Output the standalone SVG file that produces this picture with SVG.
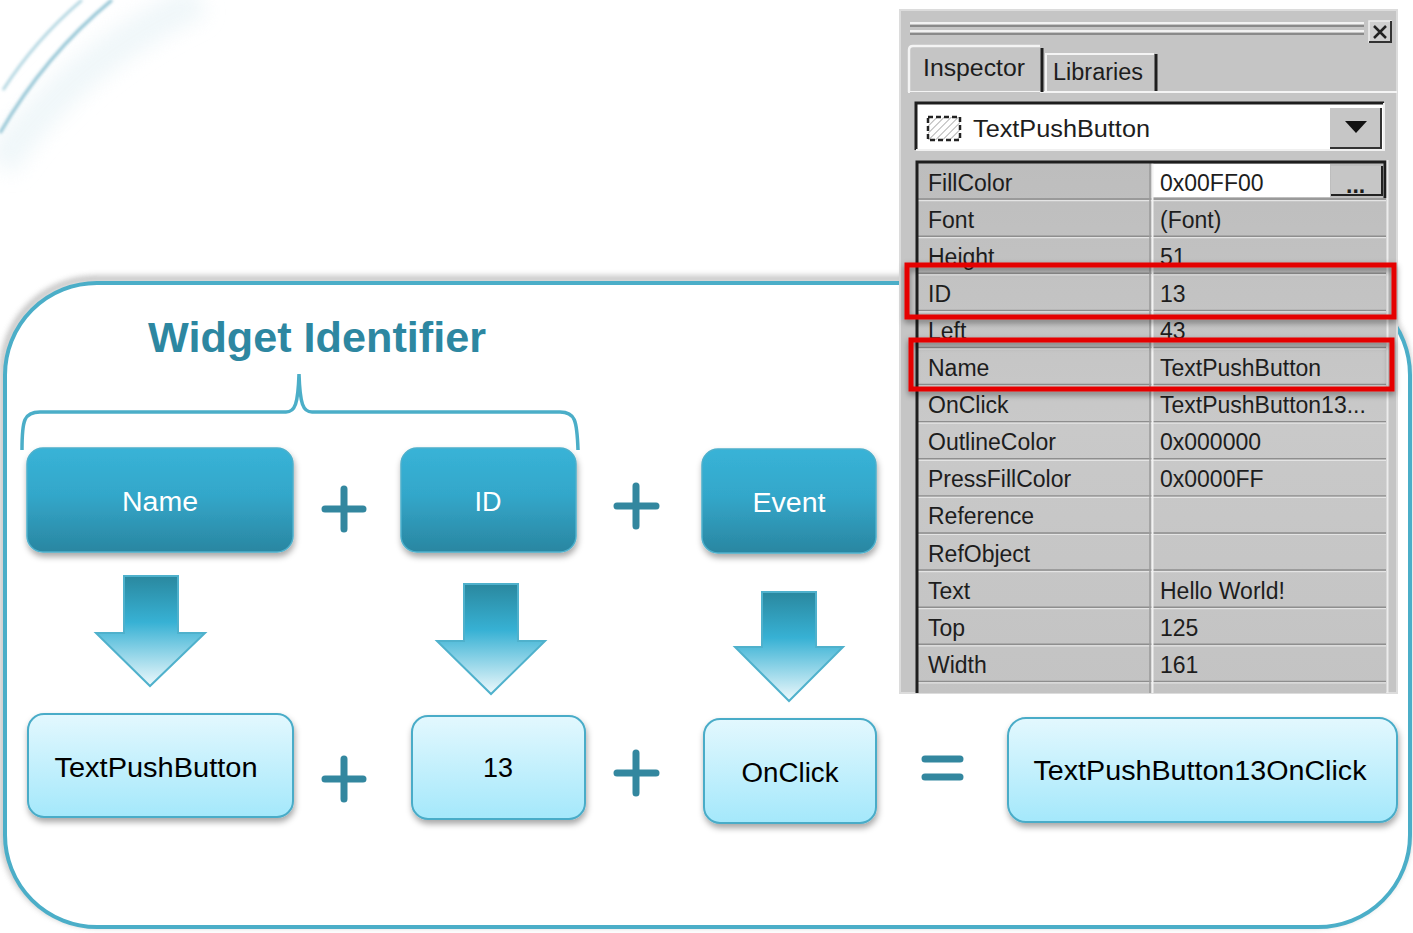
<svg xmlns="http://www.w3.org/2000/svg" width="1413" height="933" viewBox="0 0 1413 933">
<defs>
<style>
.lbl{font-family:"Liberation Sans","DejaVu Sans",sans-serif;}
.dark-text{font-family:"Liberation Sans","DejaVu Sans",sans-serif;font-size:27px;fill:#ffffff;text-anchor:middle;}
.light-text{font-family:"Liberation Sans","DejaVu Sans",sans-serif;font-size:27px;fill:#000000;text-anchor:middle;}
.dark-box{fill:url(#gDark);stroke:#4DB0CC;stroke-width:1.5;filter:url(#shadow);}
.light-box{fill:url(#gLight);stroke:#4AACC8;stroke-width:2;filter:url(#shadow);}
.arrow{fill:url(#gArrow);stroke:#4FB1CC;stroke-width:2;}
.op{stroke:#33879F;stroke-width:7;stroke-linecap:round;fill:none;}
.insp{font-family:"Liberation Sans","DejaVu Sans",sans-serif;font-size:23px;fill:#1d1d1d;}
.rowline{stroke:#8e8e8e;stroke-width:1.5;}
.rowhl{stroke:#e4e4e4;stroke-width:1.2;}
.redbox{fill:none;stroke:#E50000;stroke-width:5;filter:url(#redshadow);}
</style>
<linearGradient id="gDark" x1="0" y1="0" x2="0" y2="1">
<stop offset="0" stop-color="#38B3D7"/>
<stop offset="0.45" stop-color="#33A7CA"/>
<stop offset="1" stop-color="#2A86A1"/>
</linearGradient>
<linearGradient id="gLight" x1="0" y1="0" x2="0" y2="1">
<stop offset="0" stop-color="#E3F8FE"/>
<stop offset="1" stop-color="#A4E8FB"/>
</linearGradient>
<linearGradient id="gArrow" x1="0" y1="0" x2="0" y2="1">
<stop offset="0" stop-color="#2A889F"/>
<stop offset="0.42" stop-color="#37B1D4"/>
<stop offset="1" stop-color="#EEF9FC"/>
</linearGradient>
<linearGradient id="gRow" x1="0" y1="0" x2="0" y2="1">
<stop offset="0" stop-color="#bdbdbd"/>
<stop offset="0.5" stop-color="#c9c9c9"/>
<stop offset="1" stop-color="#c3c3c3"/>
</linearGradient>
<filter id="shadow" x="-10%" y="-10%" width="120%" height="130%">
<feDropShadow dx="1" dy="4" stdDeviation="3" flood-color="#000" flood-opacity="0.35"/>
</filter>
<filter id="redshadow" x="-5%" y="-40%" width="110%" height="180%">
<feDropShadow dx="0" dy="3" stdDeviation="3" flood-color="#000" flood-opacity="0.45"/>
</filter>
<filter id="blur2"><feGaussianBlur stdDeviation="1.8"/></filter>
<filter id="blur8" x="-50%" y="-50%" width="200%" height="200%"><feGaussianBlur stdDeviation="10"/></filter>
<filter id="cshadow" x="-5%" y="-5%" width="110%" height="110%"><feGaussianBlur stdDeviation="3"/></filter>
<pattern id="hatch" width="5" height="5" patternUnits="userSpaceOnUse" patternTransform="rotate(45)">
<line x1="0" y1="0" x2="0" y2="5" stroke="#9a9a9a" stroke-width="1.5"/>
</pattern>
</defs>

<rect width="1413" height="933" fill="#ffffff"/>

<g id="decoration">
<path d="M0,165 Q70,60 200,0" stroke="#e6f2f6" stroke-width="34" fill="none" filter="url(#blur8)" opacity="0.6"/>
<path d="M0,133 Q45,55 112,0" stroke="#8fc2d3" stroke-width="3" fill="none" filter="url(#blur2)"/>
<path d="M3,90 Q35,40 82,0" stroke="#a8d0dd" stroke-width="2.5" fill="none" filter="url(#blur2)"/>
</g>

<g id="container">
<rect x="3" y="279" width="1405" height="645" rx="92" fill="none" stroke="#777" stroke-width="5" filter="url(#cshadow)" opacity="0.6"/>
<rect x="5" y="283" width="1405" height="644" rx="92" fill="#ffffff" stroke="#4BAEC8" stroke-width="4"/>
</g>

<g id="title">
<text x="148" y="352" class="lbl" font-size="42" font-weight="bold" fill="#2D87A1" textLength="338" lengthAdjust="spacingAndGlyphs">Widget Identifier</text>
</g>

<g id="brace">
<path d="M22,450 C22,420 24,412 40,412 L286,412 C295,412 298,404 299,374 C300,404 303,412 312,412 L560,412 C575,412 577,420 578,450" fill="none" stroke="#4BAEC8" stroke-width="3.5"/>
</g>

<g id="node-name"><rect class="dark-box" x="27" y="448" width="266" height="104" rx="16"/><text class="dark-text" x="160" y="511" textLength="76" lengthAdjust="spacingAndGlyphs">Name</text></g>
<g id="node-id"><rect class="dark-box" x="401" y="448" width="175" height="104" rx="16"/><text class="dark-text" x="488" y="511">ID</text></g>
<g id="node-event"><rect class="dark-box" x="702" y="449" width="174" height="104" rx="16"/><text class="dark-text" x="789" y="512" textLength="73" lengthAdjust="spacingAndGlyphs">Event</text></g>

<g id="node-textpushbutton"><rect class="light-box" x="28" y="714" width="265" height="103" rx="16"/><text class="light-text" x="156" y="777" textLength="203" lengthAdjust="spacingAndGlyphs">TextPushButton</text></g>
<g id="node-13"><rect class="light-box" x="412" y="716" width="173" height="103" rx="16"/><text class="light-text" x="498" y="777" textLength="30" lengthAdjust="spacingAndGlyphs">13</text></g>
<g id="node-onclick"><rect class="light-box" x="704" y="719" width="172" height="104" rx="16"/><text class="light-text" x="790" y="782" textLength="97" lengthAdjust="spacingAndGlyphs">OnClick</text></g>
<g id="node-result"><rect class="light-box" x="1008" y="718" width="389" height="104" rx="18"/><text class="light-text" x="1200" y="780" textLength="333" lengthAdjust="spacingAndGlyphs">TextPushButton13OnClick</text></g>

<g id="connectors">
<path class="arrow" d="M124,576 H178 V633 H205 L150,686 L96,633 H124 Z"/>
<path class="arrow" d="M464,584 H518 V641 H545 L491,694 L437,641 H464 Z"/>
<path class="arrow" d="M762,592 H816 V647 H843 L789,701 L735,647 H762 Z"/>
</g>

<g id="operators">
<path class="op" d="M325,509 H363 M344,489 V529"/>
<path class="op" d="M617,506 H656 M636,486 V526"/>
<path class="op" d="M325,779 H363 M344,759 V799"/>
<path class="op" d="M617,773 H656 M636,753 V793"/>
<path class="op" d="M925,759 H960 M925,777 H960" stroke-width="6"/>
</g>

<g id="inspector-panel">
<rect x="900" y="10" width="497" height="683" fill="#c5c5c5"/>
<rect x="900" y="10" width="497" height="683" fill="none" stroke="#dcdcdc" stroke-width="2"/>
<line x1="910" y1="23" x2="1364" y2="23" stroke="#f2f2f2" stroke-width="2"/>
<line x1="910" y1="26" x2="1364" y2="26" stroke="#8a8a8a" stroke-width="2"/>
<line x1="910" y1="31" x2="1364" y2="31" stroke="#f2f2f2" stroke-width="2"/>
<line x1="910" y1="34" x2="1364" y2="34" stroke="#8a8a8a" stroke-width="2"/>
<rect x="1369" y="21" width="22" height="21" fill="#cfcfcf" stroke="#f0f0f0" stroke-width="1.5"/>
<path d="M1391,21 V42 H1369" fill="none" stroke="#333" stroke-width="2"/>
<path d="M1374,26 L1386,38 M1386,26 L1374,38" stroke="#222" stroke-width="2.5"/>
<line x1="908" y1="92" x2="1397" y2="92" stroke="#f4f4f4" stroke-width="2"/>
<path d="M909,92 V50 Q909,46 913,46 H1040" fill="none" stroke="#f4f4f4" stroke-width="2.5"/>
<line x1="1042" y1="48" x2="1042" y2="92" stroke="#1e1e1e" stroke-width="3"/>
<path d="M1046,92 V54 H1154" fill="none" stroke="#f4f4f4" stroke-width="2"/>
<line x1="1156" y1="54" x2="1156" y2="91" stroke="#1e1e1e" stroke-width="3"/>
<rect x="910" y="92" width="130" height="3" fill="#c5c5c5"/>
<text class="insp" x="923" y="76" font-size="23" textLength="102" lengthAdjust="spacingAndGlyphs">Inspector</text>
<text class="insp" x="1053" y="80" font-size="23" textLength="90" lengthAdjust="spacingAndGlyphs">Libraries</text>
<rect x="916" y="103" width="468" height="47" fill="#ffffff"/>
<path d="M916,150 V103 H1384" fill="none" stroke="#1e1e1e" stroke-width="3"/>
<path d="M1384,103 V150 H916" fill="none" stroke="#f0f0f0" stroke-width="2"/>
<rect x="1330" y="108" width="51" height="40" fill="#c6c6c6"/>
<path d="M1330,148 H1381 V108" fill="none" stroke="#333" stroke-width="2"/>
<path d="M1345,121 H1367 L1356,133 Z" fill="#111"/>
<rect x="928" y="117" width="32" height="23" fill="url(#hatch)" stroke="#222" stroke-width="2.5" stroke-dasharray="5 3"/>
<text class="insp" x="973" y="137" font-size="25" textLength="177" lengthAdjust="spacingAndGlyphs">TextPushButton</text>
<rect x="917" y="162" width="469" height="531" fill="url(#gRow)"/>
<rect x="1153" y="164" width="177" height="33" fill="#ffffff"/>
<rect x="1331" y="166" width="51" height="29" fill="#c6c6c6"/>
<path d="M1331,195 H1382 V166" fill="none" stroke="#222" stroke-width="2"/>
<text class="insp" x="1346" y="193" font-size="16" font-weight="bold">...</text>
<g>
<line class="rowline" x1="917" y1="199.1" x2="1386" y2="199.1"/><line class="rowhl" x1="917" y1="200.6" x2="1386" y2="200.6"/>
<line class="rowline" x1="917" y1="236.2" x2="1386" y2="236.2"/><line class="rowhl" x1="917" y1="237.7" x2="1386" y2="237.7"/>
<line class="rowline" x1="917" y1="273.3" x2="1386" y2="273.3"/><line class="rowhl" x1="917" y1="274.8" x2="1386" y2="274.8"/>
<line class="rowline" x1="917" y1="310.4" x2="1386" y2="310.4"/><line class="rowhl" x1="917" y1="311.9" x2="1386" y2="311.9"/>
<line class="rowline" x1="917" y1="347.5" x2="1386" y2="347.5"/><line class="rowhl" x1="917" y1="349" x2="1386" y2="349"/>
<line class="rowline" x1="917" y1="384.6" x2="1386" y2="384.6"/><line class="rowhl" x1="917" y1="386.1" x2="1386" y2="386.1"/>
<line class="rowline" x1="917" y1="421.7" x2="1386" y2="421.7"/><line class="rowhl" x1="917" y1="423.2" x2="1386" y2="423.2"/>
<line class="rowline" x1="917" y1="458.8" x2="1386" y2="458.8"/><line class="rowhl" x1="917" y1="460.3" x2="1386" y2="460.3"/>
<line class="rowline" x1="917" y1="495.9" x2="1386" y2="495.9"/><line class="rowhl" x1="917" y1="497.4" x2="1386" y2="497.4"/>
<line class="rowline" x1="917" y1="533" x2="1386" y2="533"/><line class="rowhl" x1="917" y1="534.5" x2="1386" y2="534.5"/>
<line class="rowline" x1="917" y1="570.1" x2="1386" y2="570.1"/><line class="rowhl" x1="917" y1="571.6" x2="1386" y2="571.6"/>
<line class="rowline" x1="917" y1="607.2" x2="1386" y2="607.2"/><line class="rowhl" x1="917" y1="608.7" x2="1386" y2="608.7"/>
<line class="rowline" x1="917" y1="644.3" x2="1386" y2="644.3"/><line class="rowhl" x1="917" y1="645.8" x2="1386" y2="645.8"/>
<line class="rowline" x1="917" y1="681.4" x2="1386" y2="681.4"/><line class="rowhl" x1="917" y1="682.9" x2="1386" y2="682.9"/>
</g>
<line x1="1150" y1="162" x2="1150" y2="693" stroke="#9a9a9a" stroke-width="1.5"/>
<line x1="1152.5" y1="162" x2="1152.5" y2="693" stroke="#f2f2f2" stroke-width="2"/>
<path d="M917,693 V162 H1385 V198" fill="none" stroke="#1e1e1e" stroke-width="3"/>
<line x1="1387.5" y1="160" x2="1387.5" y2="693" stroke="#ececec" stroke-width="2"/>
<g class="insp">
<text x="928" y="190.5">FillColor</text><text x="1160" y="190.5">0x00FF00</text>
<text x="928" y="227.6">Font</text><text x="1160" y="227.6">(Font)</text>
<text x="928" y="264.7">Height</text><text x="1160" y="264.7">51</text>
<text x="928" y="301.8">ID</text><text x="1160" y="301.8">13</text>
<text x="928" y="338.9">Left</text><text x="1160" y="338.9">43</text>
<text x="928" y="376">Name</text><text x="1160" y="376">TextPushButton</text>
<text x="928" y="413.1">OnClick</text><text x="1160" y="413.1">TextPushButton13...</text>
<text x="928" y="450.2">OutlineColor</text><text x="1160" y="450.2">0x000000</text>
<text x="928" y="487.3">PressFillColor</text><text x="1160" y="487.3">0x0000FF</text>
<text x="928" y="524.4">Reference</text>
<text x="928" y="561.5">RefObject</text>
<text x="928" y="598.6">Text</text><text x="1160" y="598.6">Hello World!</text>
<text x="928" y="635.7">Top</text><text x="1160" y="635.7">125</text>
<text x="928" y="672.8">Width</text><text x="1160" y="672.8">161</text>
</g>
<rect class="redbox" x="907" y="265" width="487" height="52"/>
<rect class="redbox" x="911" y="340" width="481" height="49"/>
</g>
</svg>
